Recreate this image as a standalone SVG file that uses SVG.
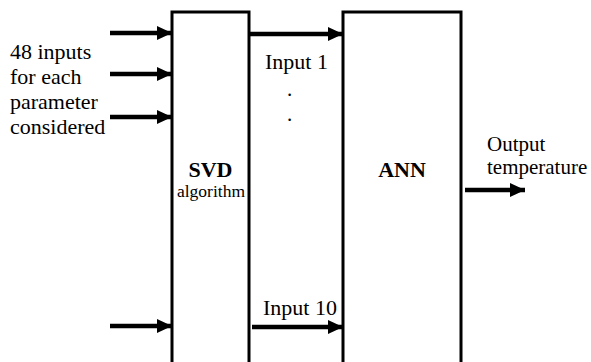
<svg xmlns="http://www.w3.org/2000/svg" width="591" height="362" viewBox="0 0 591 362">
<style>
.box{fill:#fff;stroke:#000;stroke-width:3}
.arr{stroke:#000;stroke-width:4.5;fill:none;marker-end:url(#ah)}
text{font-family:"Liberation Serif","Times New Roman",serif;fill:#000}
.t{font-size:22px}
.o{font-size:21px}
.b{font-size:22px;font-weight:bold}
</style>
<defs>
<marker id="ah" markerUnits="userSpaceOnUse" markerWidth="16" markerHeight="16" refX="15" refY="8" orient="auto">
<path d="M0,1 L15,8 L0,15 Z" fill="#000"/>
</marker>
</defs>
<rect width="591" height="362" fill="#fff"/>
<g id="svd">
<rect class="box" x="172" y="12" width="77" height="360"/>
<text class="b" x="210.5" y="177" text-anchor="middle">SVD</text>
<text x="211" y="197" text-anchor="middle" font-size="17.5">algorithm</text>
</g>
<g id="ann">
<rect class="box" x="343" y="12" width="118" height="360"/>
<text class="b" x="402" y="177" text-anchor="middle">ANN</text>
</g>
<g id="connectors">
<line class="arr" x1="110" y1="33" x2="172" y2="33"/>
<line class="arr" x1="110" y1="74" x2="172" y2="74"/>
<line class="arr" x1="110" y1="117" x2="172" y2="117"/>
<line class="arr" x1="110" y1="326" x2="172" y2="326"/>
<line class="arr" x1="250" y1="34" x2="343" y2="34"/>
<line class="arr" x1="252" y1="327" x2="343" y2="327"/>
<line class="arr" x1="465" y1="190" x2="525" y2="190"/>
</g>
<g id="labels">
<text class="t" x="10" y="59">48 inputs</text>
<text class="t" x="10" y="84">for each</text>
<text class="t" x="10" y="109">parameter</text>
<text class="t" x="10" y="134">considered</text>
<text class="t" x="265" y="69">Input 1</text>
<text class="o" x="287" y="96">.</text>
<text class="o" x="287" y="121">.</text>
<text class="t" x="263" y="315">Input 10</text>
<text class="o" x="487" y="151">Output</text>
<text class="o" x="487" y="174">temperature</text>
</g>
</svg>
